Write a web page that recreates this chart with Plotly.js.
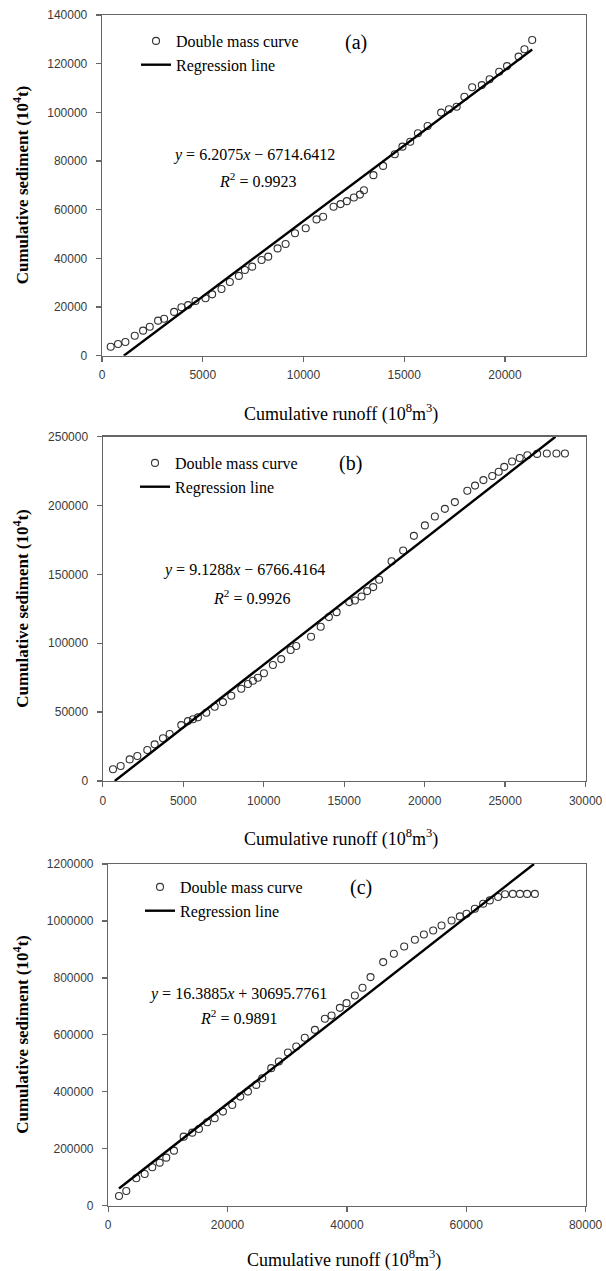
<!DOCTYPE html>
<html>
<head>
<meta charset="utf-8">
<script src="https://cdn.plot.ly/plotly-3.0.1.min.js"></script>
<style>
  html, body { margin: 0; padding: 0; background: #ffffff; }
  #chart { width: 606px; height: 1271px; }
</style>
</head>
<body>
<div id="chart"></div>
<script>
// ---------- DATA ----------
// Panel (a)
const runoffA = [432, 795, 1160, 1625, 2038, 2370, 2783, 3082, 3579, 3943, 4274, 4640, 5136, 5467, 5930, 6345, 6794, 7093, 7456, 7919, 8250, 8714, 9111, 9577, 10110, 10646, 10974, 11491, 11839, 12150, 12500, 12800, 13000, 13470, 13950, 14530, 14910, 15295, 15680, 16160, 16830, 17220, 17600, 17985, 18370, 18850, 19234, 19712, 20100, 20675, 20965, 21350];
const sedimentA = [3700, 4800, 5600, 8200, 10300, 11900, 14400, 15200, 18000, 19900, 20800, 22500, 23600, 25200, 27400, 30300, 32800, 35200, 36600, 39300, 40700, 44100, 45900, 50300, 52400, 56000, 57100, 61200, 62300, 63500, 65000, 66200, 68000, 74200, 78000, 82800, 85900, 87900, 91400, 94400, 99900, 101300, 102300, 106400, 110300, 111200, 113600, 116700, 119000, 122900, 125900, 129700];
const slopeA = 6.2075, interceptA = -6714.6412, r2A = 0.9923;
const fitRangeA = [1082, 21350];

// Panel (b)
const runoffB = [634, 1110, 1670, 2145, 2765, 3222, 3740, 4153, 4877, 5292, 5603, 5913, 6430, 6950, 7466, 7983, 8603, 9019, 9330, 9640, 10012, 10571, 11087, 11671, 12019, 12940, 13540, 14050, 14528, 15311, 15665, 16081, 16429, 16801, 17174, 17944, 18665, 19330, 20013, 20634, 21255, 21876, 22650, 23130, 23650, 24200, 24600, 24946, 25430, 25907, 26385, 26988, 27590, 28187, 28715];
const sedimentB = [8500, 10900, 15700, 18100, 22500, 26600, 31000, 34100, 40600, 43500, 44800, 46200, 49600, 53900, 57300, 61900, 67000, 70400, 72800, 75000, 78200, 84200, 88500, 95100, 98000, 104700, 112000, 119000, 122600, 129900, 131100, 134000, 137900, 140800, 146100, 159600, 167400, 178000, 185600, 192100, 197600, 202500, 210800, 214500, 218500, 221500, 224500, 228100, 232000, 234500, 236500, 237500, 237800, 237800, 237800];
const slopeB = 9.1288, interceptB = -6766.4164, r2B = 0.9926;
const fitRangeB = [741, 28127];

// Panel (c)
const runoffC = [1809, 3032, 4707, 6114, 7387, 8626, 9732, 11022, 12646, 14087, 15209, 16600, 17840, 19230, 20790, 22130, 23420, 24810, 25810, 27320, 28600, 30120, 31510, 32940, 34640, 36310, 37430, 38820, 39940, 41330, 42620, 43960, 46080, 47870, 49600, 51390, 52900, 54460, 55860, 57540, 58930, 60050, 61440, 62830, 63950, 65340, 66500, 67800, 69000, 70200, 71500];
const sedimentC = [34100, 51700, 96300, 111400, 135000, 151200, 168700, 193300, 242500, 256600, 269600, 293100, 307200, 330400, 353900, 383200, 400700, 424300, 447800, 483000, 506200, 537800, 558900, 590000, 617600, 656300, 667900, 694900, 711400, 738200, 765200, 802800, 855500, 884700, 910400, 933900, 952600, 966600, 984200, 1001800, 1015900, 1025300, 1042900, 1060500, 1072100, 1084000, 1094000, 1095000, 1095000, 1095000, 1095000];
const slopeC = 16.3885, interceptC = 30695.7761, r2C = 0.9891;
const fitRangeC = [1809, 71349];

const panelLabels = ['(a)', '(b)', '(c)'];
const legendNames = ['Double mass curve', 'Regression line'];
const xTitle = 'Cumulative runoff (10<sup>8</sup>m<sup>3</sup>)';
const yTitle = 'Cumulative sediment (10<sup>4</sup>t)';

// ---------- LAYOUT HELPERS ----------
const W = 606, H = 1271;
const px = v => v / W;
const py = v => 1 - v / H;

const panels = [
  {x: runoffA, y: sedimentA, m: slopeA, b: interceptA, r2: r2A, fit: fitRangeA,
   xr: [0, 24000], xd: 5000, yr: [0, 140000], yd: 20000,
   box: {l: 102, r: 585.6, t: 15, b: 355.7},
   leg: {x: 136, y: 24}, lab: {x: 356, y: 42},
   eq: {x: 254, y: 155}, r2pos: {x: 257, y: 180}, xt: 413},
  {x: runoffB, y: sedimentB, m: slopeB, b: interceptB, r2: r2B, fit: fitRangeB,
   xr: [0, 30000], xd: 5000, yr: [0, 250000], yd: 50000,
   box: {l: 102.8, r: 585.6, t: 436.7, b: 781},
   leg: {x: 135, y: 446}, lab: {x: 350, y: 463},
   eq: {x: 244, y: 570}, r2pos: {x: 251, y: 597}, xt: 838},
  {x: runoffC, y: sedimentC, m: slopeC, b: interceptC, r2: r2C, fit: fitRangeC,
   xr: [0, 80000], xd: 20000, yr: [0, 1200000], yd: 200000,
   box: {l: 108.2, r: 585.6, t: 864, b: 1205.7},
   leg: {x: 140, y: 870}, lab: {x: 361, y: 887},
   eq: {x: 238, y: 994}, r2pos: {x: 238, y: 1017}, xt: 1259}
];

const traces = [];
const layout = {
  width: W, height: H,
  margin: {l: 0, r: 0, t: 0, b: 0},
  paper_bgcolor: '#ffffff', plot_bgcolor: '#ffffff',
  showlegend: true,
  annotations: [],
  font: {family: 'Liberation Serif, serif', color: '#000'}
};

const serif = 'Liberation Serif, Times New Roman, serif';
const sans = 'Liberation Sans, Arial, sans-serif';

panels.forEach((p, i) => {
  const n = i === 0 ? '' : String(i + 1);
  const xa = 'x' + n, ya = 'y' + n;
  const legId = 'legend' + n;
  traces.push({
    type: 'scatter', mode: 'markers', x: p.x, y: p.y,
    xaxis: xa, yaxis: ya, name: legendNames[0], legend: legId,
    marker: {symbol: 'circle-open', size: 7, color: '#333', line: {width: 1.1, color: '#333'}},
    cliponaxis: false
  });
  const fx = p.fit;
  traces.push({
    type: 'scatter', mode: 'lines', x: fx, y: fx.map(v => p.m * v + p.b),
    xaxis: xa, yaxis: ya, name: legendNames[1], legend: legId,
    line: {color: '#000', width: 2.4}
  });
  const axCommon = {
    showgrid: false, zeroline: false, showline: true, mirror: true,
    linecolor: '#666', linewidth: 1.3, ticks: 'outside', ticklen: 5, tickwidth: 1.3,
    tickcolor: '#666', tickformat: 'd',
    tickfont: {family: sans, size: 12, color: '#3a3a3a'}
  };
  layout['xaxis' + n] = Object.assign({}, axCommon, {
    domain: [px(p.box.l), px(p.box.r)], range: p.xr, dtick: p.xd, tick0: 0,
    anchor: ya, fixedrange: true, ticklabelstandoff: 3
  });
  layout['yaxis' + n] = Object.assign({}, axCommon, {
    domain: [py(p.box.b), py(p.box.t)], range: p.yr, dtick: p.yd, tick0: 0,
    anchor: xa, fixedrange: true, ticklabelstandoff: 6
  });
  layout[legId] = {
    x: px(p.leg.x), y: py(p.leg.y), xanchor: 'left', yanchor: 'top',
    bgcolor: 'rgba(0,0,0,0)', borderwidth: 0, tracegroupgap: 0,
    font: {family: serif, size: 16, color: '#000'}
  };
  const ann = layout.annotations;
  ann.push({xref: 'paper', yref: 'paper', x: px(p.lab.x), y: py(p.lab.y),
    text: panelLabels[i], showarrow: false, xanchor: 'center', yanchor: 'middle',
    font: {family: serif, size: 20, color: '#000'}});
  const sign = p.b < 0 ? '\u2212' : '+';
  ann.push({xref: 'paper', yref: 'paper', x: px(p.eq.x), y: py(p.eq.y),
    text: '<i>y</i> = ' + p.m.toFixed(4) + '<i>x</i> ' + sign + ' ' + Math.abs(p.b).toFixed(4),
    showarrow: false, xanchor: 'center', yanchor: 'middle',
    font: {family: serif, size: 16, color: '#000'}});
  ann.push({xref: 'paper', yref: 'paper', x: px(p.r2pos.x), y: py(p.r2pos.y),
    text: '<i>R</i><sup>2</sup> = ' + p.r2.toFixed(4),
    showarrow: false, xanchor: 'center', yanchor: 'middle',
    font: {family: serif, size: 16, color: '#000'}});
  ann.push({xref: 'paper', yref: 'paper', x: px((p.box.l + p.box.r) / 2 - 3), y: py(p.xt),
    text: xTitle, showarrow: false, xanchor: 'center', yanchor: 'middle',
    font: {family: serif, size: 18, color: '#000'}});
  ann.push({xref: 'paper', yref: 'paper', x: px(21), y: py((p.box.t + p.box.b) / 2),
    text: '<b>' + yTitle + '</b>', showarrow: false, textangle: -90,
    xanchor: 'center', yanchor: 'middle',
    font: {family: serif, size: 17, color: '#000'}});
});

Plotly.newPlot('chart', traces, layout, {staticPlot: true, displayModeBar: false});
</script>
</body>
</html>
